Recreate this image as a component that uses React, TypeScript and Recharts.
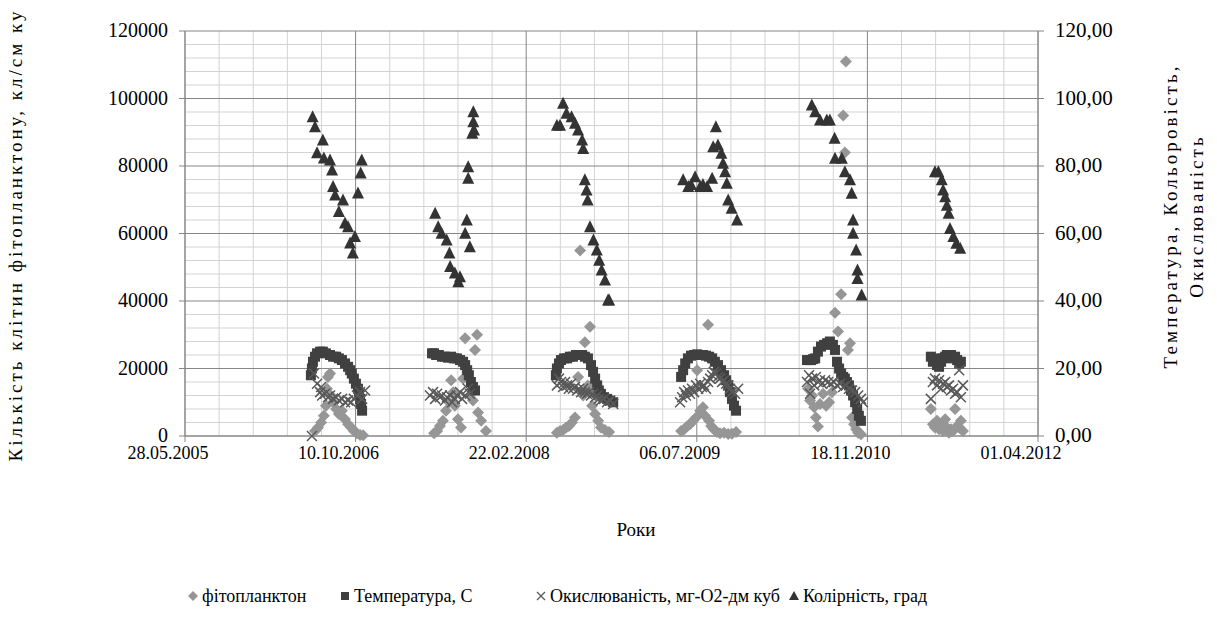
import { ScatterChart, Scatter, XAxis, YAxis, ReferenceLine } from "recharts";

// x values are Excel date serials (38500 = 28.05.2005)
const xTicks = [38500, 39000, 39500, 40000, 40500, 41000];
const leftTicks = [0, 20000, 40000, 60000, 80000, 100000, 120000];
const rightTicks = [0, 20, 40, 60, 80, 100, 120];

const phytoplankton: [number, number][] = [
  [38881, 1500], [38890, 2500], [38899, 4000], [38907, 6000], [38913, 9000], [38916, 14000],
  [38919, 17500], [38925, 18500], [38928, 12000], [38934, 10000], [38943, 8000], [38951, 6500],
  [38960, 7500], [38969, 5000], [38978, 3500], [38987, 2500], [38995, 1500], [39004, 800],
  [39013, 300], [39022, 200],
  [39230, 800], [39239, 1500], [39247, 3000], [39256, 4500], [39265, 7500], [39274, 10000],
  [39280, 16500], [39286, 13000], [39291, 9000], [39300, 5000], [39309, 2500], [39315, 17000],
  [39321, 29000], [39327, 19000], [39335, 12000], [39344, 10500], [39350, 25500], [39356, 30000],
  [39359, 7000], [39368, 4500], [39382, 1500],
  [39590, 1000], [39599, 1500], [39608, 1800], [39617, 2500], [39625, 3000], [39634, 4000],
  [39643, 5500], [39652, 17500], [39658, 55000], [39667, 12000], [39672, 27800], [39681, 15000],
  [39687, 32400], [39693, 9000], [39702, 6500], [39711, 4500], [39719, 2500], [39731, 1800],
  [39743, 1200],
  [39954, 1500], [39963, 2000], [39971, 2800], [39980, 3500], [39989, 4500], [39998, 5500],
  [40001, 19500], [40010, 7500], [40018, 8500], [40024, 6000], [40033, 33000], [40036, 4500],
  [40042, 3000], [40050, 2000], [40059, 1200], [40068, 800], [40080, 1000], [40092, 600],
  [40103, 700], [40115, 1200],
  [40326, 14000], [40332, 10500], [40338, 12000], [40344, 8500], [40349, 5500], [40355, 2800],
  [40361, 9500], [40370, 12500], [40379, 9000], [40388, 10000], [40396, 13000], [40405, 36500],
  [40414, 31000], [40423, 42000], [40429, 95000], [40434, 84000], [40437, 111000], [40443, 25500],
  [40449, 27500], [40455, 5500], [40461, 3500], [40467, 2000], [40473, 1000], [40481, 500],
  [40686, 8000], [40692, 3500], [40698, 2500], [40704, 4500], [40710, 2000], [40716, 3000],
  [40722, 1500], [40728, 5000], [40733, 2500], [40739, 1000], [40745, 2000], [40751, 1500],
  [40757, 8000], [40763, 3000], [40769, 2500], [40774, 4500], [40780, 1500],
];

const temperature: [number, number][] = [
  [38869, 18], [38872, 20], [38875, 22], [38881, 23.5], [38887, 24.5], [38896, 25], [38904, 25],
  [38913, 24.5], [38925, 24], [38934, 23.5], [38943, 23.5], [38951, 23], [38960, 22.5],
  [38969, 21.5], [38978, 20.5], [38984, 19.5], [38989, 18.5], [38995, 17], [39001, 15.5],
  [39007, 14], [39010, 12.5], [39013, 11], [39016, 9.5], [39019, 7.5],
  [39224, 24.5], [39230, 24.5], [39236, 24], [39244, 24], [39253, 23.5], [39262, 23.5],
  [39271, 23.2], [39280, 23.5], [39288, 23], [39297, 23], [39306, 22.5], [39315, 22],
  [39321, 21], [39327, 19.5], [39332, 18], [39338, 16], [39344, 14.5], [39350, 13.5],
  [39587, 18], [39590, 20], [39596, 21.5], [39602, 22.5], [39611, 23], [39620, 23], [39628, 23.5],
  [39637, 23.5], [39646, 24], [39655, 24], [39664, 24], [39672, 23.5], [39681, 23], [39690, 21],
  [39696, 19], [39702, 17], [39708, 15], [39713, 13.5], [39719, 12.5], [39728, 11.5],
  [39737, 11], [39746, 10.5], [39755, 10],
  [39954, 17.5], [39960, 19.5], [39966, 21.5], [39974, 23], [39983, 23.8], [39992, 24],
  [40001, 24.2], [40010, 24], [40018, 24], [40027, 23.8], [40036, 23.5], [40045, 23],
  [40053, 22], [40062, 21], [40071, 19.5], [40080, 18], [40086, 16.5], [40092, 15],
  [40097, 13], [40103, 11], [40109, 9], [40115, 7.5],
  [40323, 22.5], [40329, 22.5], [40335, 22.5], [40341, 22.8], [40347, 23], [40355, 25],
  [40364, 26.5], [40373, 27], [40382, 27.5], [40390, 28], [40399, 27], [40405, 25.5],
  [40411, 22], [40417, 20], [40423, 18.5], [40429, 17.5], [40434, 17], [40440, 16],
  [40446, 15], [40452, 13.5], [40458, 12], [40464, 10], [40470, 8], [40475, 6], [40481, 4.5],
  [40686, 23.5], [40692, 22], [40698, 23], [40704, 21], [40710, 20.5], [40716, 22], [40722, 23],
  [40728, 23.5], [40733, 24], [40739, 23.5], [40745, 24], [40751, 23], [40757, 23.5],
  [40763, 22.5], [40769, 21.5], [40774, 22],
];

const oxidizability: [number, number][] = [
  [38872, 0], [38878, 18.5], [38887, 15.5], [38896, 13], [38899, 14.5], [38902, 12], [38910, 12.5],
  [38919, 11.5], [38925, 12], [38934, 11], [38943, 11.5], [38951, 10.5], [38960, 11],
  [38969, 10], [38978, 10.5], [38987, 10], [38995, 11], [39004, 12], [39013, 13], [39019, 11],
  [39028, 13.5],
  [39218, 12], [39227, 13], [39233, 11], [39239, 12.5], [39247, 11.5], [39253, 12], [39262, 10.5],
  [39268, 11.5], [39277, 12], [39283, 10], [39291, 11], [39297, 12], [39306, 13], [39312, 11],
  [39321, 12], [39329, 14], [39335, 12.5],
  [39590, 15], [39596, 17], [39602, 16], [39608, 14.5], [39614, 16], [39620, 15], [39625, 14],
  [39631, 15.5], [39637, 14], [39643, 14.5], [39649, 13.5], [39655, 14], [39661, 13],
  [39667, 14], [39672, 13], [39678, 12.5], [39684, 13], [39690, 12], [39696, 12.5],
  [39702, 11.5], [39708, 12], [39713, 11], [39719, 10.5], [39728, 11], [39737, 10],
  [39746, 10.5], [39755, 9.5],
  [39951, 10], [39957, 11.5], [39963, 13], [39968, 12], [39974, 13.5], [39980, 12.5], [39986, 14],
  [39992, 13], [39998, 15], [40004, 14], [40010, 15.5], [40015, 14.5], [40021, 15], [40027, 14],
  [40033, 16], [40039, 17], [40045, 18], [40050, 19], [40056, 18.5], [40062, 17.5], [40068, 17],
  [40074, 16], [40080, 16.5], [40086, 15.5], [40092, 15], [40097, 14], [40103, 13],
  [40112, 12.5], [40121, 14],
  [40323, 16], [40329, 18], [40332, 12.5], [40338, 17], [40344, 15], [40349, 17.5], [40355, 16],
  [40361, 16.5], [40367, 15.5], [40376, 16.5], [40385, 16], [40393, 15.5], [40402, 16],
  [40411, 15], [40420, 15.5], [40429, 14.5], [40437, 15], [40446, 14], [40455, 13.5],
  [40464, 13], [40473, 12], [40481, 11], [40487, 10],
  [40686, 11], [40692, 16], [40698, 17], [40704, 15], [40710, 16.5], [40716, 14], [40722, 15.5],
  [40728, 16], [40733, 14.5], [40739, 15], [40745, 13.5], [40751, 14], [40757, 12.5],
  [40763, 13], [40769, 19.5], [40774, 11.5], [40780, 15],
];

const colour: [number, number][] = [
  [38874, 94.6], [38881, 91.6], [38904, 87.7], [38887, 83.9], [38907, 82.4], [38925, 81.8],
  [38931, 78.8], [38934, 73.9], [38940, 71.4], [38963, 69.9], [38951, 66.5], [38969, 63.1],
  [38978, 62], [38998, 59.1], [38984, 57.2], [38992, 54.2], [39018, 81.8], [39015, 77.9],
  [39007, 72],
  [39233, 66], [39242, 62], [39252, 60.1], [39267, 58.1], [39275, 54.2], [39277, 50.2],
  [39291, 48.3], [39306, 47.2], [39301, 45.7], [39326, 64], [39321, 60.1], [39335, 56.1],
  [39330, 79.8], [39330, 76.4], [39345, 96.1], [39345, 93.1], [39347, 90.7], [39342, 89.7],
  [39590, 92.1], [39599, 92.1], [39608, 98.6], [39618, 95.6], [39633, 94.6], [39643, 92.7],
  [39652, 90.7], [39664, 87.7], [39667, 85.2], [39672, 75.9], [39677, 72.9], [39680, 69.9],
  [39687, 62], [39697, 58.1], [39707, 55.1], [39714, 52.1], [39721, 49.2], [39731, 46.2],
  [39740, 40.3], [39743, 40.3],
  [39960, 75.9], [39975, 73.9], [39995, 76.8], [40010, 73.9], [40030, 73.9], [40045, 76.4],
  [39983, 74.5], [40018, 74.5], [40056, 91.6], [40048, 85.7], [40062, 86.2], [40072, 83.8],
  [40077, 80.8], [40083, 78.3], [40088, 74.9], [40092, 69.9], [40102, 67.5], [40118, 64],
  [40337, 98.1], [40347, 96.1], [40361, 93.6], [40381, 93.6], [40390, 93.6], [40404, 88.2],
  [40405, 82.3], [40425, 82.3], [40434, 78.3], [40449, 75.9], [40454, 71.9], [40458, 64],
  [40458, 60.1], [40467, 55.1], [40471, 49.2], [40471, 46.7], [40483, 41.8],
  [40698, 78.3], [40708, 78.3], [40718, 75.9], [40722, 72.9], [40728, 70.9], [40733, 68.4],
  [40738, 66], [40742, 61.5], [40752, 59.1], [40761, 57.1], [40772, 55.6],
];

const toPoints = (rows: [number, number][]) => rows.map(([x, y]) => ({ x, y }));

// minor grid positions (gridlines only, not data)
const leftMinor: number[] = [];
for (let v = 4000; v < 120000; v += 4000) if (v % 20000 !== 0) leftMinor.push(v);
const xMinor: number[] = [];
for (let v = 38600; v < 41000; v += 100) if ((v - 38500) % 500 !== 0) xMinor.push(v);

const FONT = "Liberation Serif, DejaVu Serif, serif";
const AXIS = "#868686";
const MINOR = "#d3d3d3";

const pad = (n: number) => String(n).padStart(2, "0");
const fmtDate = (serial: number) => {
  const d = new Date(Date.UTC(1899, 11, 30) + serial * 86400000);
  return `${pad(d.getUTCDate())}.${pad(d.getUTCMonth() + 1)}.${d.getUTCFullYear()}`;
};
const fmtRight = (v: number) => v.toFixed(2).replace(".", ",");

const Diamond = (p: any) => (
  <path d={`M${p.cx},${p.cy - 6}L${p.cx + 6},${p.cy}L${p.cx},${p.cy + 6}L${p.cx - 6},${p.cy}Z`} fill="#969696" />
);
const Square = (p: any) => <rect x={p.cx - 5} y={p.cy - 5} width={10} height={10} fill="#404040" />;
const Cross = (p: any) => (
  <path
    d={`M${p.cx - 5},${p.cy - 5}L${p.cx + 5},${p.cy + 5}M${p.cx + 5},${p.cy - 5}L${p.cx - 5},${p.cy + 5}`}
    stroke="#595959"
    strokeWidth={1.5}
    fill="none"
  />
);
const Triangle = (p: any) => (
  <path d={`M${p.cx},${p.cy - 6.5}L${p.cx + 6},${p.cy + 5.5}L${p.cx - 6},${p.cy + 5.5}Z`} fill="#333333" />
);

const XTick = ({ x, y, payload }: any) => (
  <text x={x - 17} y={y + 15} textAnchor="middle" style={{ fontFamily: FONT, fontSize: 18 }} fill="#000">
    {fmtDate(payload.value)}
  </text>
);

const YTick = ({ x, y, payload, anchor, fmt, size }: any) => (
  <text x={x} y={y} dy={6} textAnchor={anchor} style={{ fontFamily: FONT, fontSize: size }} fill="#000">
    {fmt(payload.value)}
  </text>
);

const legendItems = [
  { label: "фітопланктон", left: 185, mark: "diamond" },
  { label: "Температура, С", left: 337, mark: "square" },
  { label: "Окислюваність, мг-О2-дм куб", left: 533, mark: "cross" },
  { label: "Колірність, град", left: 786, mark: "triangle" },
];

const LegendMark = ({ mark }: { mark: string }) => (
  <svg width={10} height={10} style={{ marginRight: 4 }}>
    {mark === "diamond" && <path d="M5,0L10,5L5,10L0,5Z" fill="#969696" />}
    {mark === "square" && <rect x={1} y={1} width={8} height={8} fill="#404040" />}
    {mark === "cross" && <path d="M1,1L9,9M9,1L1,9" stroke="#595959" strokeWidth={1.3} />}
    {mark === "triangle" && <path d="M5,0L10,9L0,9Z" fill="#333333" />}
  </svg>
);

export default function App() {
  return (
    <div style={{ position: "relative", width: 1200, height: 609, fontFamily: FONT }}>
      <ScatterChart width={1200} height={560} margin={{ top: 23, right: 90, bottom: 102, left: 97 }}>
        {xMinor.map((v) => (
          <ReferenceLine key={`xm${v}`} x={v} yAxisId="left" stroke={MINOR} strokeWidth={1} />
        ))}
        {leftMinor.map((v) => (
          <ReferenceLine key={`ym${v}`} y={v} yAxisId="left" stroke={MINOR} strokeWidth={1} />
        ))}
        {xTicks.map((v) => (
          <ReferenceLine key={`xM${v}`} x={v} yAxisId="left" stroke={AXIS} strokeWidth={1} />
        ))}
        {leftTicks.map((v) => (
          <ReferenceLine key={`yM${v}`} y={v} yAxisId="left" stroke={AXIS} strokeWidth={1} />
        ))}
        <XAxis
          dataKey="x"
          type="number"
          domain={[38500, 41000]}
          ticks={xTicks}
          interval={0}
          height={30}
          stroke={AXIS}
          tickSize={6}
          tick={<XTick />}
        />
        <YAxis
          yAxisId="left"
          dataKey="y"
          type="number"
          domain={[0, 120000]}
          ticks={leftTicks}
          interval={0}
          width={80}
          stroke={AXIS}
          tickSize={6}
          tickMargin={11}
          tick={<YTick anchor="end" size={20} fmt={(v: number) => String(v)} />}
        />
        <YAxis
          yAxisId="right"
          orientation="right"
          dataKey="y"
          type="number"
          domain={[0, 120]}
          ticks={rightTicks}
          interval={0}
          width={80}
          stroke={AXIS}
          tickSize={6}
          tickMargin={11}
          tick={<YTick anchor="start" size={21} fmt={fmtRight} />}
        />
        <Scatter name="фітопланктон" yAxisId="left" data={toPoints(phytoplankton)} shape={Diamond} isAnimationActive={false} />
        <Scatter name="Температура, С" yAxisId="right" data={toPoints(temperature)} shape={Square} isAnimationActive={false} />
        <Scatter name="Окислюваність, мг-О2-дм куб" yAxisId="right" data={toPoints(oxidizability)} shape={Cross} isAnimationActive={false} />
        <Scatter name="Колірність, град" yAxisId="right" data={toPoints(colour)} shape={Triangle} isAnimationActive={false} />
      </ScatterChart>

      <div
        style={{
          position: "absolute",
          left: 8,
          top: 227,
          transform: "translate(-50%, -50%) rotate(-90deg)",
          whiteSpace: "nowrap",
          fontSize: 19,
          letterSpacing: 3,
        }}
      >
        Кількість клітин фітопланктону, кл/см ку
      </div>
      <div
        style={{
          position: "absolute",
          left: 1176,
          top: 208,
          transform: "translate(-50%, -50%) rotate(-90deg)",
          whiteSpace: "nowrap",
          fontSize: 19,
          letterSpacing: 3.1,
          lineHeight: "26px",
          textAlign: "center",
        }}
      >
        Температура, Кольоровість,
        <br />
        Окислюваність
      </div>
      <div style={{ position: "absolute", left: 628, top: 522, transform: "translate(-50%, -50%)", fontSize: 19 }}>
        Роки
      </div>
      {legendItems.map((it) => (
        <div
          key={it.label}
          style={{
            position: "absolute",
            left: it.left - 5,
            top: 578,
            height: 20,
            display: "flex",
            alignItems: "center",
            whiteSpace: "nowrap",
            fontSize: 18,
          }}
        >
          <LegendMark mark={it.mark} />
          {it.label}
        </div>
      ))}
    </div>
  );
}
